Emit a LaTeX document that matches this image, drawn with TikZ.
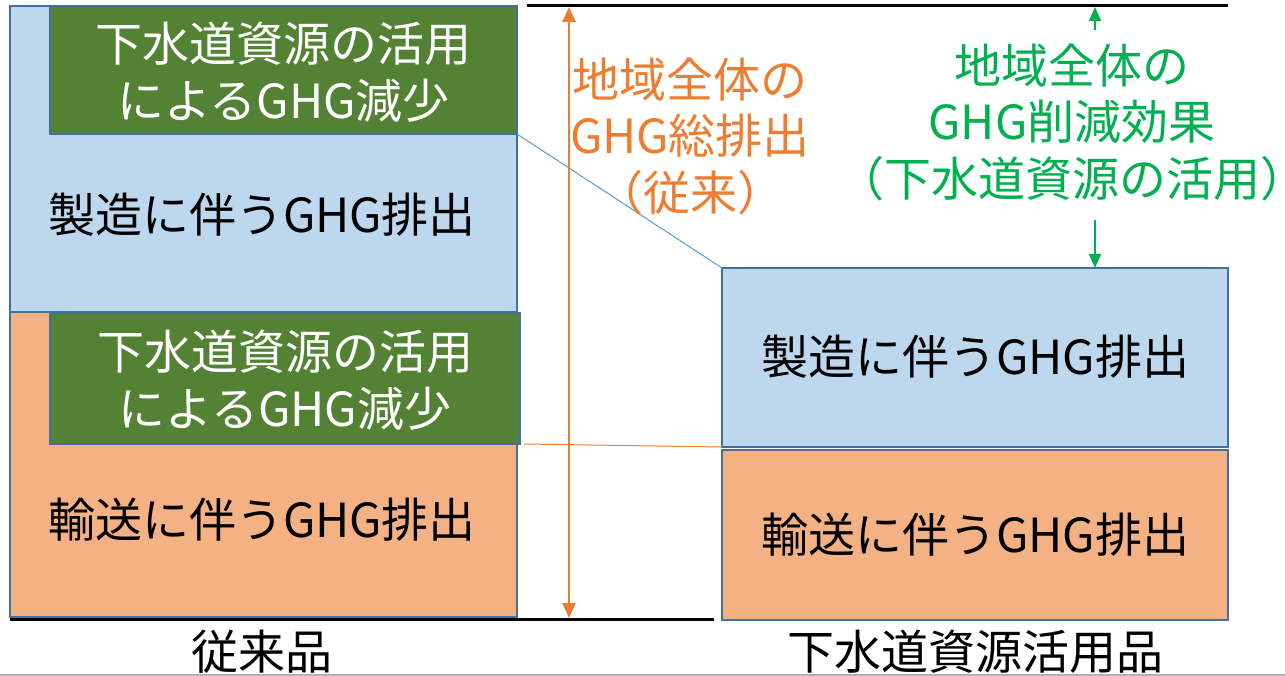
\documentclass[tikz,border=0pt]{standalone}
\usepackage{fontspec}
\newfontfamily\jp{Noto Sans CJK JP}
\usetikzlibrary{arrows.meta}
\definecolor{boxblue}{HTML}{BDD7EE}
\definecolor{edgeblue}{HTML}{41719C}
\definecolor{boxgreen}{HTML}{548235}
\definecolor{boxorange}{HTML}{F4B183}
\definecolor{arrorange}{HTML}{ED7D31}
\definecolor{txtgreen}{HTML}{00B050}
\definecolor{lineblue}{HTML}{5B9BD5}
\tikzset{
  bar/.style={draw=edgeblue, line width=2.5pt, inner sep=0pt, outer sep=0pt},
  lbl/.style={font=\jp\fontsize{47}{56.5}\selectfont, align=center, inner sep=0pt},
  base/.style={line width=3pt, black},
}
\begin{document}
\begin{tikzpicture}[x=1pt,y=-1pt]
\useasboundingbox (0,0) rectangle (1285,676);
% left column
\node[bar, fill=boxblue, minimum width=507pt, minimum height=306pt] (lblue) at (263.5,159) {};
\node[bar, fill=boxorange, minimum width=507pt, minimum height=305pt] (lorange) at (263.5,464.5) {};
\node[bar, fill=boxgreen, minimum width=467pt, minimum height=128pt] (gtop) at (283.5,70) {};
\node[bar, fill=boxgreen, minimum width=470pt, minimum height=131pt] (glow) at (285,378.5) {};
\node[lbl, text=white] (gtoptxt) at (283.5,72) {下水道資源の活用\\によるGHG減少};
\node[lbl, text=white] (glowtxt) at (285,380) {下水道資源の活用\\によるGHG減少};
\node[lbl] (lbluetxt) at (262,215) {製造に伴うGHG排出};
\node[lbl] (lorangetxt) at (262,520) {輸送に伴うGHG排出};
% right column
\node[bar, fill=boxblue, minimum width=506pt, minimum height=179pt] (rblue) at (975,357.5) {};
\node[bar, fill=boxorange, minimum width=506pt, minimum height=170pt] (rorange) at (975,535) {};
\node[lbl] (rbluetxt) at (975,357) {製造に伴うGHG排出};
\node[lbl] (rorangetxt) at (975,535) {輸送に伴うGHG排出};
% baselines
\coordinate (bl1) at (10,619);
\coordinate (bl2) at (714,619);
\coordinate (tl1) at (527,6);
\coordinate (tl2) at (1228,6);
\draw[base] (bl1) -- (bl2);
\draw[base] (tl1) -- (tl2);
% connector lines
\coordinate (oline) at (524,444);
\draw[lineblue, line width=1pt] (gtop.south east) -- (rblue.north west);
\draw[arrorange, line width=1pt] (oline) -- (rblue.south west);
% orange arrow
\coordinate (oa1) at (569,7);
\coordinate (oa2) at (569,618);
\draw[arrorange, line width=2.5pt, {Triangle[width=13pt,length=15pt]}-{Triangle[width=13pt,length=15pt]}] (oa2) -- (oa1);
\node[lbl, text=arrorange] (otxt) at (690,136) {地域全体の\\GHG総排出\\（従来）};
% green arrows
\coordinate (ga1) at (1095,30);
\coordinate (ga2) at (1095,7);
\coordinate (ga3) at (1095,220);
\coordinate (ga4) at (1095,268);
\draw[txtgreen, line width=2pt, -{Triangle[width=12pt,length=14pt]}] (ga1) -- (ga2);
\draw[txtgreen, line width=2pt, -{Triangle[width=12pt,length=14pt]}] (ga3) -- (ga4);
\node[lbl, text=txtgreen] (gtxt) at (1072,122) {地域全体の\\GHG削減効果\\\hspace*{-0.5em}（下水道資源の活用）\hspace*{-0.5em}};
% bottom labels
\node[lbl] (cap1) at (262,652) {従来品};
\node[lbl] (cap2) at (975,652) {下水道資源活用品};
\draw[gray!60, line width=1.5pt] (0,675) -- (1285,675);
\end{tikzpicture}
\end{document}
